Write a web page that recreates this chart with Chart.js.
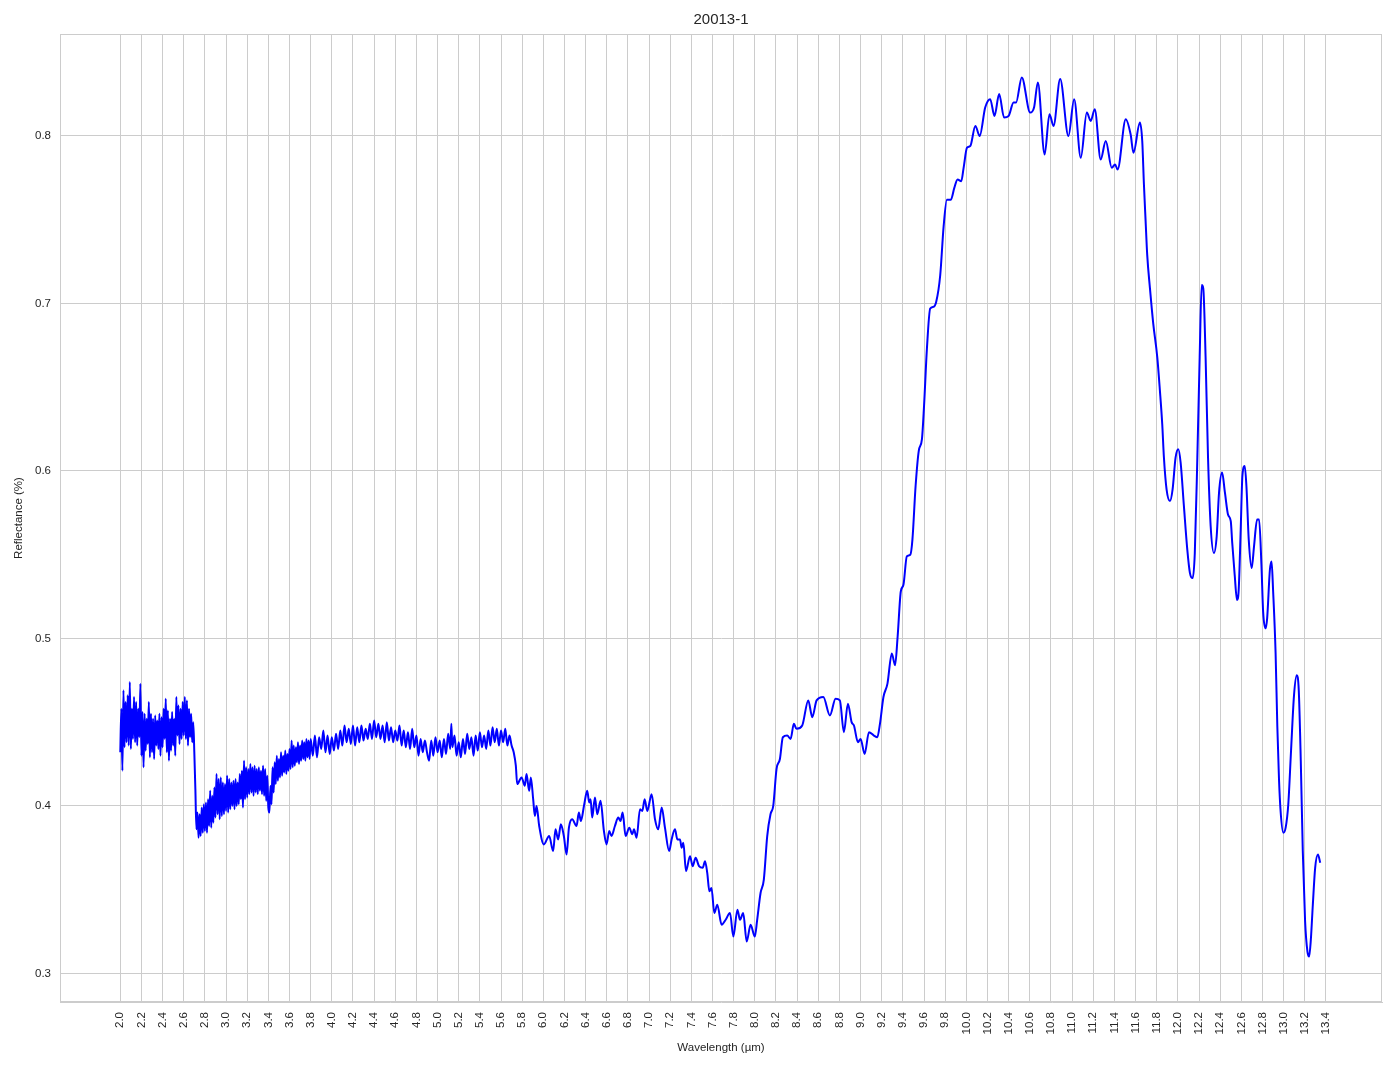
<!DOCTYPE html>
<html>
<head>
<meta charset="utf-8">
<title>20013-1</title>
<script src="https://cdn.jsdelivr.net/npm/chart.js@4.4.1/dist/chart.umd.min.js"></script>
<style>
  html, body { margin: 0; padding: 0; background: #fff; }
  #spectrum { display: block; }
</style>
</head>
<body>
<canvas id="spectrum" width="1394" height="1069"></canvas>
<script>
// values
const wavelength = [
  2.00, 2.01, 2.02, 2.03, 2.04, 2.05, 2.06, 2.07, 2.08, 2.09,
  2.10, 2.11, 2.12, 2.13, 2.14, 2.15, 2.16, 2.17, 2.18, 2.19,
  2.20, 2.21, 2.22, 2.23, 2.24, 2.25, 2.26, 2.27, 2.28, 2.29,
  2.30, 2.31, 2.32, 2.33, 2.34, 2.35, 2.36, 2.37, 2.38, 2.39,
  2.40, 2.41, 2.42, 2.43, 2.44, 2.45, 2.46, 2.47, 2.48, 2.49,
  2.50, 2.51, 2.52, 2.53, 2.54, 2.55, 2.56, 2.57, 2.58, 2.59,
  2.60, 2.61, 2.62, 2.63, 2.64, 2.65, 2.66, 2.67, 2.68, 2.69,
  2.70, 2.71, 2.72, 2.73, 2.74, 2.75, 2.76, 2.77, 2.78, 2.79,
  2.80, 2.81, 2.82, 2.83, 2.84, 2.85, 2.86, 2.87, 2.88, 2.89,
  2.90, 2.91, 2.92, 2.93, 2.94, 2.95, 2.96, 2.97, 2.98, 2.99,
  3.00, 3.01, 3.02, 3.03, 3.04, 3.05, 3.06, 3.07, 3.08, 3.09,
  3.10, 3.11, 3.12, 3.13, 3.14, 3.15, 3.16, 3.17, 3.18, 3.19,
  3.20, 3.21, 3.22, 3.23, 3.24, 3.25, 3.26, 3.27, 3.28, 3.29,
  3.30, 3.31, 3.32, 3.33, 3.34, 3.35, 3.36, 3.37, 3.38, 3.39,
  3.40, 3.41, 3.42, 3.43, 3.44, 3.45, 3.46, 3.47, 3.48, 3.49,
  3.50, 3.51, 3.52, 3.53, 3.54, 3.55, 3.56, 3.57, 3.58, 3.59,
  3.60, 3.61, 3.62, 3.63, 3.64, 3.65, 3.66, 3.67, 3.68, 3.69,
  3.70, 3.71, 3.72, 3.73, 3.74, 3.75, 3.76, 3.77, 3.78, 3.79,
  3.80, 3.82, 3.84, 3.86, 3.88, 3.90, 3.92, 3.94, 3.96, 3.98,
  4.00, 4.02, 4.04, 4.06, 4.08, 4.10, 4.12, 4.14, 4.16, 4.18,
  4.20, 4.22, 4.24, 4.26, 4.28, 4.30, 4.32, 4.34, 4.36, 4.38,
  4.40, 4.42, 4.44, 4.46, 4.48, 4.50, 4.52, 4.54, 4.56, 4.58,
  4.60, 4.62, 4.64, 4.66, 4.68, 4.70, 4.72, 4.74, 4.76, 4.78,
  4.80, 4.82, 4.84, 4.86, 4.88, 4.90, 4.92, 4.94, 4.96, 4.98,
  5.00, 5.02, 5.04, 5.06, 5.08, 5.10, 5.12, 5.13, 5.14, 5.16, 5.18,
  5.20, 5.22, 5.24, 5.26, 5.28, 5.30, 5.32, 5.34, 5.36, 5.38,
  5.40, 5.42, 5.44, 5.46, 5.48, 5.50, 5.52, 5.54, 5.56, 5.58,
  5.60, 5.62, 5.64, 5.66, 5.68, 5.70, 5.72, 5.74,
  5.753, 5.794, 5.825, 5.841, 5.866, 5.882, 5.904, 5.920, 5.936, 5.961,
  6.005, 6.055, 6.093, 6.115, 6.140, 6.166, 6.194, 6.220, 6.242, 6.273,
  6.314, 6.336, 6.355, 6.387, 6.415, 6.434, 6.447, 6.462, 6.488, 6.510,
  6.541, 6.573, 6.598, 6.623, 6.645, 6.677, 6.709, 6.730, 6.750, 6.778,
  6.813, 6.841, 6.857, 6.882, 6.914, 6.936, 6.958, 6.983, 7.024, 7.056,
  7.087, 7.119, 7.150, 7.190, 7.213, 7.245, 7.267, 7.292, 7.308, 7.324,
  7.349, 7.387, 7.412, 7.440, 7.472, 7.507, 7.529, 7.550, 7.570, 7.590,
  7.617, 7.645, 7.686, 7.724, 7.765, 7.797, 7.835, 7.860, 7.890, 7.923,
  7.960, 8.000, 8.022, 8.054, 8.085, 8.117, 8.148, 8.174, 8.205, 8.237,
  8.265, 8.306, 8.338, 8.369, 8.394, 8.448, 8.505, 8.543, 8.584, 8.647,
  8.710, 8.763, 8.804, 8.842, 8.880, 8.915, 8.937, 8.975, 9.000, 9.038,
  9.079, 9.126, 9.158, 9.183, 9.216, 9.254, 9.295, 9.326, 9.350, 9.380,
  9.405, 9.437, 9.470, 9.490, 9.520, 9.550, 9.580, 9.600, 9.627, 9.658,
  9.690, 9.715, 9.753, 9.785, 9.816, 9.854, 9.886, 9.917, 9.952, 9.974,
  10.006, 10.037, 10.085, 10.126, 10.178, 10.225, 10.266, 10.310, 10.357, 10.400,
  10.446, 10.470, 10.524, 10.603, 10.640, 10.676, 10.740, 10.786, 10.824, 10.887,
  10.965, 11.019, 11.082, 11.139, 11.176, 11.214, 11.270, 11.318, 11.375, 11.406,
  11.430, 11.507, 11.553, 11.580, 11.641, 11.663, 11.679, 11.695, 11.710, 11.736,
  11.767, 11.805, 11.830, 11.852, 11.868, 11.893, 11.925, 11.950, 11.978, 12.004,
  12.026, 12.057, 12.089, 12.114, 12.140, 12.160, 12.184, 12.206, 12.225, 12.240,
  12.262, 12.285, 12.310, 12.341, 12.367, 12.389, 12.418, 12.445, 12.474, 12.500,
  12.514, 12.537, 12.559, 12.575, 12.594, 12.610, 12.632, 12.648, 12.670, 12.698,
  12.720, 12.749, 12.768, 12.790, 12.806, 12.829, 12.844, 12.870, 12.886, 12.900,
  12.924, 12.940, 12.956, 12.971, 12.997, 13.019, 13.044, 13.070, 13.098, 13.124,
  13.143, 13.162, 13.181, 13.203, 13.225, 13.241, 13.257, 13.276, 13.298, 13.324,
  13.346
];

const reflectance = [
  0.432, 0.458, 0.421, 0.469, 0.435, 0.462, 0.438, 0.466, 0.436, 0.474,
  0.434, 0.458, 0.440, 0.465, 0.438, 0.462, 0.436, 0.458, 0.441, 0.473,
  0.430, 0.456, 0.423, 0.455, 0.433, 0.452, 0.437, 0.462, 0.429, 0.455,
  0.432, 0.452, 0.428, 0.454, 0.436, 0.451, 0.434, 0.455, 0.430, 0.453,
  0.435, 0.458, 0.440, 0.464, 0.432, 0.457, 0.427, 0.452, 0.433, 0.456,
  0.436, 0.452, 0.430, 0.465, 0.442, 0.460, 0.437, 0.458, 0.440, 0.462,
  0.442, 0.465, 0.440, 0.463, 0.436, 0.458, 0.441, 0.455, 0.438, 0.450,
  0.432, 0.410, 0.386, 0.396, 0.381, 0.395, 0.382, 0.399, 0.384, 0.401,
  0.385, 0.402, 0.384, 0.404, 0.388, 0.409, 0.387, 0.406, 0.390, 0.411,
  0.393, 0.419, 0.395, 0.416, 0.392, 0.417, 0.394, 0.414, 0.395, 0.413,
  0.397, 0.418, 0.396, 0.416, 0.398, 0.414, 0.400, 0.415, 0.398, 0.416,
  0.400, 0.414, 0.401, 0.419, 0.404, 0.421, 0.399, 0.427, 0.404, 0.423,
  0.405, 0.422, 0.407, 0.425, 0.408, 0.423, 0.406, 0.424, 0.408, 0.422,
  0.407, 0.423, 0.409, 0.421, 0.407, 0.424, 0.406, 0.422, 0.403, 0.418,
  0.399, 0.396, 0.412, 0.401, 0.423, 0.408, 0.426, 0.413, 0.430, 0.415,
  0.428, 0.417, 0.432, 0.418, 0.430, 0.420, 0.433, 0.419, 0.431, 0.421,
  0.434, 0.422, 0.439, 0.423, 0.436, 0.424, 0.435, 0.426, 0.438, 0.425,
  0.436, 0.427, 0.439, 0.428, 0.438, 0.427, 0.440, 0.429, 0.439, 0.428,
  0.440, 0.430, 0.442, 0.429, 0.441, 0.434, 0.445, 0.432, 0.442, 0.431,
  0.441, 0.433, 0.443, 0.434, 0.445, 0.436, 0.448, 0.438, 0.446, 0.437,
  0.448, 0.436, 0.447, 0.438, 0.448, 0.439, 0.446, 0.440, 0.449, 0.440,
  0.451, 0.441, 0.449, 0.440, 0.448, 0.438, 0.450, 0.439, 0.447, 0.438,
  0.445, 0.439, 0.448, 0.436, 0.445, 0.435, 0.444, 0.434, 0.446, 0.435,
  0.442, 0.430, 0.440, 0.432, 0.439, 0.432, 0.427, 0.439, 0.430, 0.441,
  0.432, 0.439, 0.429, 0.440, 0.431, 0.443, 0.434, 0.449, 0.435, 0.442, 0.430,
  0.438, 0.429, 0.440, 0.431, 0.443, 0.434, 0.441, 0.430, 0.442, 0.433,
  0.444, 0.435, 0.442, 0.434, 0.445, 0.436, 0.447, 0.438, 0.446, 0.436,
  0.445, 0.438, 0.446, 0.436, 0.442, 0.436, 0.432, 0.424,
  0.413, 0.417, 0.412, 0.419, 0.409, 0.417, 0.404, 0.394, 0.400, 0.388,
  0.377, 0.382, 0.373, 0.386, 0.380, 0.389, 0.382, 0.371, 0.387, 0.392,
  0.388, 0.396, 0.391, 0.401, 0.409, 0.402, 0.404, 0.393, 0.405, 0.395,
  0.403, 0.385, 0.377, 0.385, 0.382, 0.388, 0.393, 0.391, 0.396, 0.382,
  0.387, 0.383, 0.386, 0.381, 0.398, 0.397, 0.404, 0.397, 0.407, 0.392,
  0.386, 0.399, 0.387, 0.373, 0.380, 0.386, 0.380, 0.380, 0.375, 0.378,
  0.361, 0.370, 0.364, 0.369, 0.364, 0.363, 0.367, 0.360, 0.349, 0.351,
  0.336, 0.341, 0.329, 0.332, 0.336, 0.322, 0.338, 0.332, 0.336, 0.319,
  0.329, 0.322, 0.332, 0.348, 0.356, 0.382, 0.395, 0.400, 0.422, 0.428,
  0.441, 0.442, 0.440, 0.449, 0.446, 0.448, 0.463, 0.453, 0.463, 0.465,
  0.454, 0.464, 0.463, 0.444, 0.461, 0.450, 0.448, 0.438, 0.440, 0.431,
  0.444, 0.442, 0.441, 0.449, 0.465, 0.473, 0.491, 0.484, 0.501, 0.528,
  0.532, 0.549, 0.550, 0.559, 0.591, 0.612, 0.619, 0.639, 0.673, 0.697,
  0.698, 0.701, 0.717, 0.746, 0.762, 0.762, 0.769, 0.774, 0.773, 0.781,
  0.793, 0.794, 0.806, 0.800, 0.817, 0.822, 0.812, 0.825, 0.811, 0.812,
  0.820, 0.820, 0.835, 0.814, 0.817, 0.832, 0.789, 0.813, 0.806, 0.834,
  0.800, 0.822, 0.787, 0.814, 0.809, 0.816, 0.786, 0.797, 0.781, 0.783,
  0.780, 0.810, 0.801, 0.790, 0.808, 0.797, 0.771, 0.749, 0.729, 0.709,
  0.688, 0.668, 0.648, 0.628, 0.608, 0.589, 0.582, 0.589, 0.608, 0.613,
  0.605, 0.579, 0.553, 0.539, 0.536, 0.551, 0.608, 0.668, 0.711, 0.709,
  0.668, 0.608, 0.567, 0.551, 0.561, 0.587, 0.599, 0.587, 0.574, 0.570,
  0.557, 0.538, 0.523, 0.529, 0.565, 0.597, 0.603, 0.591, 0.559, 0.542,
  0.555, 0.571, 0.571, 0.544, 0.516, 0.506, 0.512, 0.541, 0.546, 0.529,
  0.491, 0.448, 0.416, 0.397, 0.384, 0.387, 0.401, 0.433, 0.466, 0.478,
  0.469, 0.427, 0.373, 0.331, 0.313, 0.310, 0.320, 0.341, 0.363, 0.371,
  0.366
];

const xTicks = [
  2.0, 2.2, 2.4, 2.6, 2.8, 3.0, 3.2, 3.4, 3.6, 3.8, 4.0, 4.2, 4.4, 4.6, 4.8,
  5.0, 5.2, 5.4, 5.6, 5.8, 6.0, 6.2, 6.4, 6.6, 6.8, 7.0, 7.2, 7.4, 7.6, 7.8,
  8.0, 8.2, 8.4, 8.6, 8.8, 9.0, 9.2, 9.4, 9.6, 9.8, 10.0, 10.2, 10.4, 10.6, 10.8,
  11.0, 11.2, 11.4, 11.6, 11.8, 12.0, 12.2, 12.4, 12.6, 12.8, 13.0, 13.2, 13.4
];
const yTicks = [0.3, 0.4, 0.5, 0.6, 0.7, 0.8];

const FONT = '"Liberation Sans", Arial, sans-serif';
const TEXT = '#262626';
const GRID = '#cccccc';

// grey box round the plot area, and the title centred over it
const frame = {
  id: 'frame',
  afterDraw(chart) {
    const { ctx, chartArea: a } = chart;
    ctx.save();
    ctx.strokeStyle = GRID;
    ctx.lineWidth = 1;
    ctx.strokeRect(a.left + 0.5, a.top + 0.5, a.right - a.left - 1, a.bottom - a.top - 1);
    ctx.fillStyle = TEXT;
    ctx.font = '15px ' + FONT;
    ctx.textAlign = 'center';
    ctx.textBaseline = 'middle';
    ctx.fillText('20013-1', (a.left + a.right) / 2, 20);
    ctx.restore();
  }
};

const points = wavelength.map((w, i) => ({ x: w, y: reflectance[i] }));

new Chart(document.getElementById('spectrum'), {
  type: 'line',
  data: {
    datasets: [{
      data: points,
      borderColor: '#0000ff',
      borderWidth: 2,
      pointRadius: 0,
      fill: false,
      cubicInterpolationMode: 'monotone'
    }]
  },
  plugins: [frame],
  options: {
    responsive: false,
    animation: false,
    devicePixelRatio: 1,
    layout: { padding: { left: 0, right: 12, top: 34, bottom: 0 } },
    plugins: {
      legend: { display: false },
      tooltip: { enabled: false },
      title: { display: false }
    },
    scales: {
      x: {
        type: 'linear',
        min: 1.43,
        max: 13.93,
        afterBuildTicks: s => { s.ticks = xTicks.map(v => ({ value: v })); },
        afterFit: s => { s.height = 67; },
        grid: { color: GRID, drawTicks: false },
        border: { color: GRID },
        ticks: {
          color: TEXT,
          font: { family: FONT, size: 11.5 },
          minRotation: 90,
          maxRotation: 90,
          autoSkip: false,
          padding: 10,
          callback: v => Number(v).toFixed(1)
        },
        title: {
          display: true,
          text: 'Wavelength (µm)',
          color: TEXT,
          font: { family: FONT, size: 11.5 },
          padding: { top: 0, bottom: 14 }
        }
      },
      y: {
        type: 'linear',
        min: 0.2829,
        max: 0.8609,
        afterBuildTicks: s => { s.ticks = yTicks.map(v => ({ value: v })); },
        afterFit: s => { s.width = 60; },
        grid: { color: GRID, drawTicks: false },
        border: { color: GRID },
        ticks: {
          color: TEXT,
          font: { family: FONT, size: 11.5 },
          padding: 9,
          callback: v => Number(v).toFixed(1)
        },
        title: {
          display: true,
          text: 'Reflectance (%)',
          color: TEXT,
          font: { family: FONT, size: 11.5 },
          padding: { top: 12, bottom: 0 }
        }
      }
    }
  }
});
</script>
</body>
</html>
